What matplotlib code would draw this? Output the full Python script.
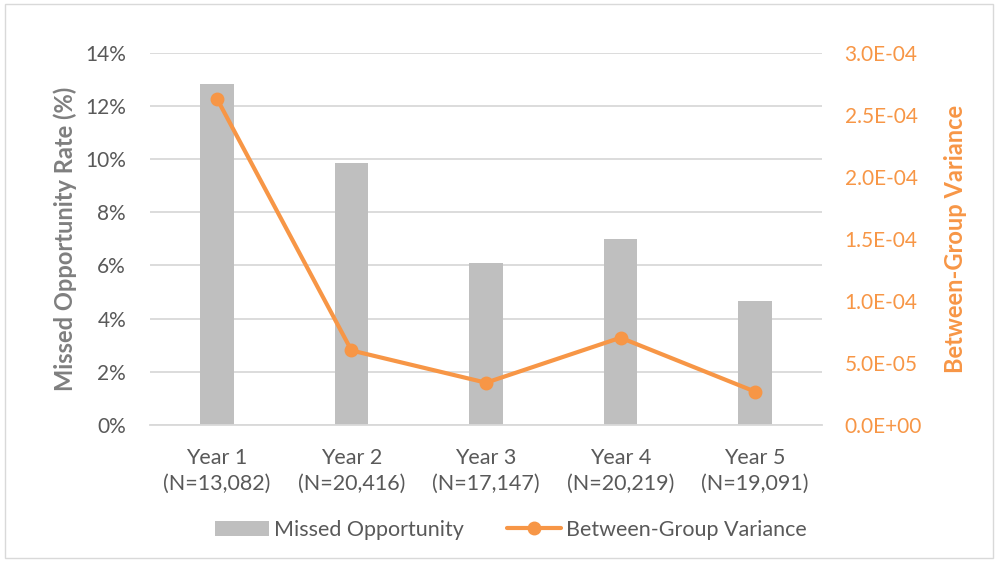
import matplotlib.pyplot as plt
from matplotlib.patches import Rectangle
from matplotlib.ticker import FuncFormatter

plt.rcParams['font.family'] = ['Lato', 'DejaVu Sans']

# --- data ---
years = ["Year 1", "Year 2", "Year 3", "Year 4", "Year 5"]
sample_sizes = ["13,082", "20,416", "17,147", "20,219", "19,091"]
missed_rate = [12.84, 9.85, 6.09, 6.99, 4.66]            # percent
between_var = [2.63e-4, 6.0e-5, 3.4e-5, 7.03e-5, 2.68e-5]

GREY_TXT = "#595959"
GREY_LBL = "#7F7F7F"
BAR = "#BFBFBF"
ORANGE = "#F79646"
GRID = "#D9D9D9"

fig = plt.figure(figsize=(9.98, 5.62), dpi=100)
ax = fig.add_axes([0.150, 0.244, 0.674, 0.662])
ax2 = ax.twinx()

x = range(len(years))
ax.bar(x, missed_rate, width=0.25, color=BAR, label="Missed Opportunity", zorder=2)
ax2.plot(x, between_var, color=ORANGE, lw=3, marker="o", ms=9,
         label="Between-Group Variance", zorder=3, solid_capstyle="round")

ax.set_xlim(-0.5, len(years) - 0.5)
ax.set_ylim(0, 14)
ax.set_yticks(range(0, 15, 2))
ax.yaxis.set_major_formatter(FuncFormatter(lambda v, p: f"{v:.0f}%"))
ax2.set_ylim(0, 3e-4)
ax2.set_yticks([i * 5e-5 for i in range(7)])
ax2.yaxis.set_major_formatter(FuncFormatter(lambda v, p: f"{v:.1E}"))

ax.set_xticks(list(x))
ax.set_xticklabels([f"{y}\n(N={n})" for y, n in zip(years, sample_sizes)],
                   fontsize=15.5, color=GREY_TXT, linespacing=1.35)

ax.grid(axis="y", color=GRID, lw=1.3, zorder=0)
ax.set_axisbelow(True)
for a in (ax, ax2):
    for s in a.spines.values():
        s.set_visible(False)
ax.spines["bottom"].set_visible(True)
ax.spines["bottom"].set_color(GRID)
ax.spines["bottom"].set_linewidth(1.3)

ax.tick_params(axis="both", length=0)
ax.tick_params(axis="y", labelsize=15, labelcolor=GREY_TXT, pad=17)
ax.tick_params(axis="x", pad=17)
ax2.tick_params(axis="y", length=0, labelsize=15, labelcolor=ORANGE, pad=16)

ax.set_ylabel("Missed Opportunity Rate (%)", fontsize=17, fontweight="bold",
              color=GREY_LBL, labelpad=6)
ax2.set_ylabel("Between-Group Variance", fontsize=17, fontweight="bold",
               color=ORANGE, labelpad=16)

h1, l1 = ax.get_legend_handles_labels()
h2, l2 = ax2.get_legend_handles_labels()
fig.legend(h1 + h2, l1 + l2, loc="center", bbox_to_anchor=(0.512, 0.057), ncol=2,
           frameon=False, fontsize=15.5, labelcolor=GREY_TXT, handlelength=2.5,
           handletextpad=0.25, columnspacing=2.0)

fig.patches.append(Rectangle((0.005, 0.008), 0.99, 0.984, transform=fig.transFigure,
                             fill=False, edgecolor=GRID, lw=1))

fig.savefig("out.png", dpi=100)
